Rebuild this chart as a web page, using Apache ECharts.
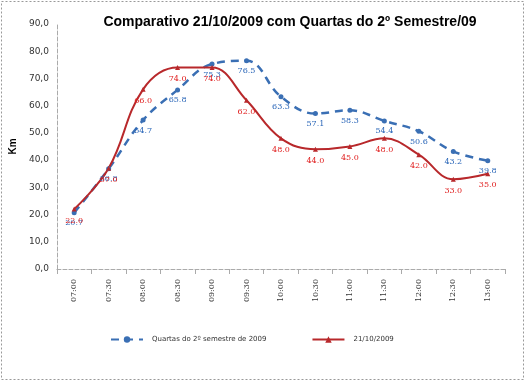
<!DOCTYPE html>
<html><head><meta charset="utf-8">
<script src="https://cdn.jsdelivr.net/npm/echarts@6/dist/echarts.min.js"></script>
<style>html,body{margin:0;padding:0;background:#fff}#c{width:526px;height:382px}</style>
</head><body><div id="c"></div>
<script>
const categories = ['07:00','07:30','08:00','08:30','09:00','09:30','10:00','10:30','11:00','11:30','12:00','12:30','13:00'];
const quartas = [20.7, 36.8, 54.7, 65.8, 75.3, 76.5, 63.3, 57.1, 58.3, 54.4, 50.6, 43.2, 39.8];
const dia = [22.0, 37.0, 66.0, 74.0, 74.0, 62.0, 48.0, 44.0, 45.0, 48.0, 42.0, 33.0, 35.0];
const seriesNames = ['Quartas do 2º semestre de 2009', '21/10/2009'];
const titleText = 'Comparativo 21/10/2009 com Quartas do 2º Semestre/09';

const chart = echarts.init(document.getElementById('c'));
const fmt = v => v.toFixed(1).replace('.', ',');
chart.setOption({
  animation: false,
  backgroundColor: '#fff',
  title: { text: titleText, left: 285, top: 10, textAlign: 'center',
    textStyle: { fontFamily: 'Liberation Sans', fontSize: 14, fontWeight: 'bold', color: '#000' } },
  graphic: [{ type: 'rect', shape: { x: 1.5, y: 1.5, width: 522, height: 378 },
    style: { fill: 'none', stroke: '#999', lineWidth: 1, lineDash: [2, 2] } }],
  grid: { left: 40, right: 21, top: 24, bottom: 113 },
  legend: { bottom: 34, left: 105, itemGap: 45, itemWidth: 32, itemHeight: 8,
    textStyle: { fontFamily: 'DejaVu Sans', fontSize: 7, color: '#333', padding: [0, 0, 0, 4] },
    data: seriesNames },
  xAxis: { type: 'category', data: categories, boundaryGap: true,
    axisLine: { lineStyle: { color: '#aaa', type: 'dashed' } },
    axisTick: { show: true, lineStyle: { color: '#aaa' } },
    axisLabel: { rotate: 90, fontFamily: 'DejaVu Serif', fontSize: 8, color: '#333', margin: 10 } },
  yAxis: { type: 'value', min: 0, max: 90, interval: 10, name: 'Km', nameLocation: 'middle', nameGap: 27,
    nameTextStyle: { fontFamily: 'Liberation Sans', fontWeight: 'bold', fontSize: 10, color: '#000' },
    axisLine: { show: true, lineStyle: { color: '#aaa', type: 'dashed' } },
    axisTick: { show: false },
    splitLine: { show: false },
    axisLabel: { formatter: v => fmt(v), fontFamily: 'DejaVu Sans', fontSize: 9, color: '#333', margin: 8 } },
  series: [
    { name: seriesNames[0], type: 'line', data: quartas, smooth: 0.4,
      symbol: 'circle', symbolSize: 5, color: '#3a6fb4',
      lineStyle: { width: 2.5, type: [8, 6], color: '#3a6fb4' },
      label: { show: true, position: 'bottom', distance: 4, formatter: p => p.value.toFixed(1),
        fontFamily: 'DejaVu Serif', fontSize: 8, color: '#2a66b8' } },
    { name: seriesNames[1], type: 'line', data: dia, smooth: 0.4,
      symbol: 'triangle', symbolSize: 5, color: '#b8282b',
      lineStyle: { width: 2, color: '#b8282b' },
      label: { show: true, position: 'bottom', distance: 5, formatter: p => p.value.toFixed(1),
        fontFamily: 'DejaVu Serif', fontSize: 8, color: '#e02020' } }
  ]
});
</script></body></html>
